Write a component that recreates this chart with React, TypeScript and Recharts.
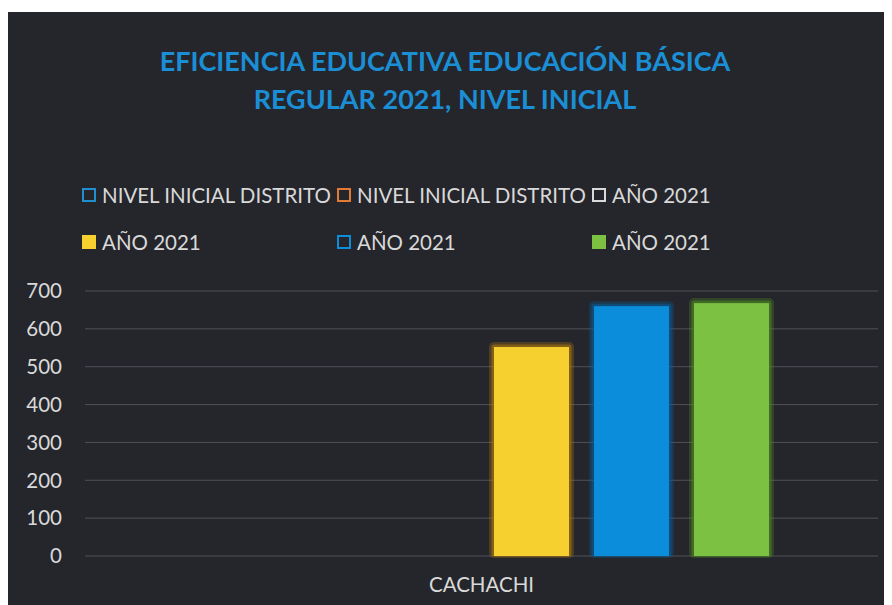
import { Bar, BarChart, CartesianGrid, Legend, XAxis, YAxis } from "recharts";

const categories = ["CACHACHI"];
const seriesNames = [
  "NIVEL INICIAL DISTRITO",
  "NIVEL INICIAL DISTRITO",
  "AÑO 2021",
  "AÑO 2021",
  "AÑO 2021",
  "AÑO 2021",
];
const seriesValues: (number | null)[][] = [[null], [null], [null], [552], [660], [668]];
const yTicks = [0, 100, 200, 300, 400, 500, 600, 700];

const barColors = ["#1f8fd0", "#e07a35", "#d9d9d9", "#f6d02f", "#0b8ddb", "#7cc142"];
const glowColors = ["#1f8fd0", "#e07a35", "#d9d9d9", "#b07a10", "#0a5f9a", "#4f8a22"];
const markerFilled = [false, false, false, true, false, true];

const data = categories.map((name, i) => {
  const row: Record<string, string | number | null> = { name };
  seriesValues.forEach((vals, s) => {
    row["s" + s] = vals[i];
  });
  return row;
});

const FONT = "Lato, 'Open Sans', sans-serif";
const TEXT = "#d9d9d9";

const GlowBar = (props: any) => {
  const { x, y, width, height, fill, glow } = props;
  if (!height || height <= 0) return null;
  return (
    <g>
      <rect x={x - 5} y={y - 5} width={width + 10} height={height + 7} rx={5} fill={glow} opacity={0.3} />
      <rect x={x - 2.5} y={y - 2.5} width={width + 5} height={height + 3} rx={3} fill={glow} opacity={0.55} />
      <rect x={x} y={y} width={width} height={height} fill={fill} />
    </g>
  );
};

// legend keeps the series order (Excel layout: 3 columns, 2 rows)
const LegendContent = () => (
  <div
    style={{
      display: "grid",
      gridTemplateColumns: "255px 255px 255px",
      rowGap: 23,
      fontFamily: FONT,
      fontSize: 20.5,
      lineHeight: "24px",
      color: TEXT,
    }}
  >
    {seriesNames.map((name, i) => (
      <div key={i} style={{ display: "flex", alignItems: "center", whiteSpace: "nowrap" }}>
        <span
          style={{
            display: "inline-block",
            width: 14,
            height: 14,
            boxSizing: "border-box",
            border: `2px solid ${barColors[i]}`,
            background: markerFilled[i] ? barColors[i] : "transparent",
            marginRight: 6,
          }}
        />
        {name}
      </div>
    ))}
  </div>
);

const App = () => {
  return (
    <div style={{ paddingTop: 4 }}>
      <div style={{ position: "relative", width: 884, height: 593, background: "#25262c" }}>
        <div
          style={{
            position: "absolute",
            top: 30,
            left: 0,
            width: 874,
            textAlign: "center",
            fontFamily: FONT,
            fontWeight: 700,
            fontSize: 27,
            lineHeight: "38px",
            color: "#1b8fd6",
            zIndex: 2,
          }}
        >
          EFICIENCIA EDUCATIVA EDUCACIÓN BÁSICA
          <br />
          REGULAR 2021, NIVEL INICIAL
        </div>
        <BarChart
          width={884}
          height={593}
          data={data}
          margin={{ top: 279, right: 14, left: 17, bottom: 19 }}
          barCategoryGap={109}
          barGap={25}
        >
          <CartesianGrid stroke="#505157" vertical={false} />
          <XAxis
            dataKey="name"
            height={30}
            axisLine={false}
            tickLine={false}
            tickSize={0}
            tickMargin={21}
            tick={{ fill: TEXT, fontFamily: FONT, fontSize: 20.5 }}
          />
          <YAxis
            width={60}
            domain={[0, 700]}
            ticks={yTicks}
            axisLine={false}
            tickLine={false}
            tickSize={0}
            tickMargin={23}
            tick={{ fill: TEXT, fontFamily: FONT, fontSize: 20.5 }}
          />
          <Legend
            layout="horizontal"
            verticalAlign="middle"
            align="center"
            wrapperStyle={{ top: 171, left: 74, width: 780 }}
            content={<LegendContent />}
          />
          {seriesNames.map((name, s) => (
            <Bar
              key={s}
              dataKey={"s" + s}
              name={name}
              fill={barColors[s]}
              isAnimationActive={false}
              shape={(p: any) => <GlowBar {...p} glow={glowColors[s]} />}
            />
          ))}
        </BarChart>
      </div>
    </div>
  );
};

export default App;
